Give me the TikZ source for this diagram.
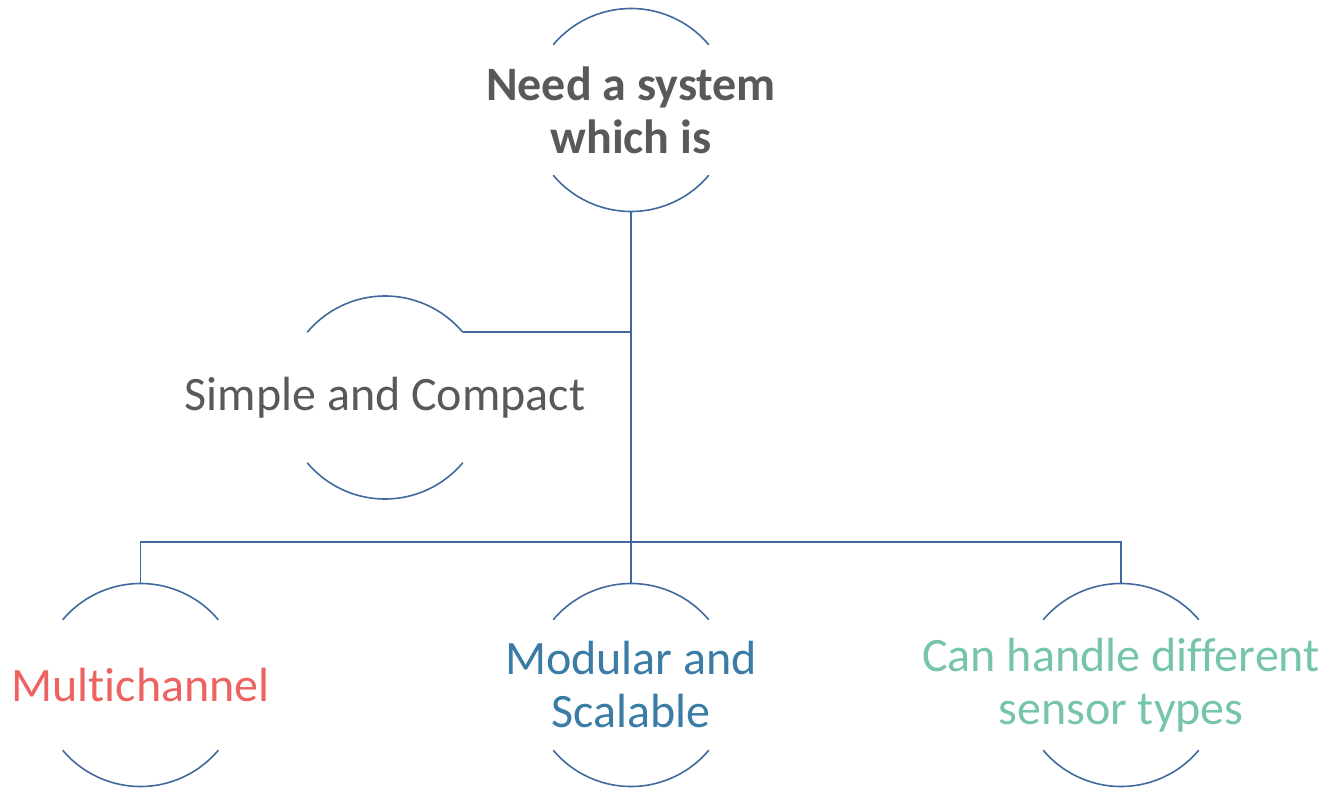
\documentclass[tikz,border=0pt]{standalone}
\usepackage{fontspec}
\setmainfont{Carlito}[Ligatures={NoCommon}]
\definecolor{linkblue}{HTML}{41699E}
\definecolor{txtgrey}{HTML}{595959}
\definecolor{txtred}{HTML}{EC6361}
\definecolor{txtblue}{HTML}{3A7CA5}
\definecolor{txtteal}{HTML}{77C4AD}
\tikzset{
  ring/.style={circle, minimum size=203pt, inner sep=0pt, outer sep=0pt, draw=none},
  arcline/.style={draw=linkblue, line width=1.6pt},
  link/.style={draw=linkblue, line width=1.6pt},
  label/.style={align=center, inner sep=0pt, font=\fontsize{48}{53}\selectfont},
}
\newcommand{\openring}[1]{%
  \draw[arcline] (#1.40) arc[start angle=40, end angle=140, radius=101.5pt];
  \draw[arcline] (#1.220) arc[start angle=220, end angle=320, radius=101.5pt];}
\begin{document}
\begin{tikzpicture}[x=1pt, y=1pt]
\useasboundingbox (0,0) rectangle (1328,-789);

% circles (only their upper and lower arcs are drawn)
\node[ring] (top)  at (631,-110)   {};
\node[ring] (simp) at (385,-397.5) {};
\node[ring] (mult) at (140.5,-685) {};
\node[ring] (modu) at (631,-685)   {};
\node[ring] (sens) at (1121,-685)  {};
\foreach \n in {top,simp,mult,modu,sens} {\openring{\n}}

% texts
\node[label, text=txtgrey, font=\fontsize{48}{53}\bfseries] at (top) {Need a system\\which is};
\node[label, text=txtgrey] at (simp) {Simple and Compact};
\node[label, text=txtred]  at (mult) {Multichannel};
\node[label, text=txtblue] at (modu) {Modular and\\Scalable};
\node[label, text=txtteal] at (sens) {Can handle different\\sensor types};

% connectors
\coordinate (bus) at (631,-542);
\draw[link] (top.south) -- (modu.north);
\draw[link] (simp.40) -- (simp.40 -| top.south);
\draw[link] (mult.north) |- (bus) -| (sens.north);
\end{tikzpicture}
\end{document}
